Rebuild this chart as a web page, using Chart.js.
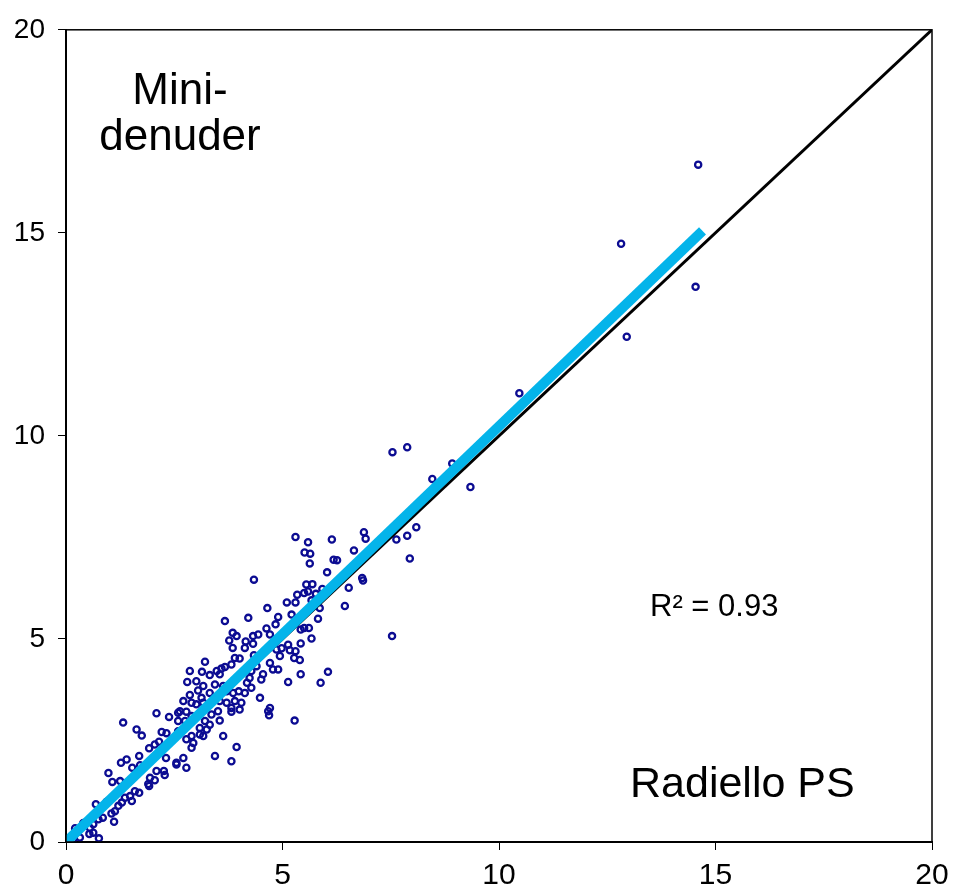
<!DOCTYPE html>
<html>
<head>
<meta charset="utf-8">
<script src="https://cdn.jsdelivr.net/npm/chart.js@4/dist/chart.umd.min.js"></script>
<style>
  html, body { margin: 0; padding: 0; background: #fff; }
  #chart { display: block; }
</style>
</head>
<body>
<canvas id="chart" width="954" height="896"></canvas>
<script>
// Radiello PS (x) vs Mini-denuder (y)
const radielloPS = [
  2.09, 2.38, 2.59, 1.32, 1.63, 1.75, 2.21, 2.32, 2.15, 2.05, 1.92, 1.69, 1.40, 1.27, 1.53, 1.71, 2.55, 2.31,
  0.98, 1.07, 1.25, 1.94, 2.09, 2.26, 2.28, 2.05, 1.90, 1.92, 1.69, 1.59, 1.48, 1.52, 1.36, 1.29, 1.21, 1.13,
  1.05, 1.11, 0.94, 0.69, 0.85, 0.75, 0.63, 0.55, 0.40, 0.21, 0.63, 0.54, 0.76, 0.32, 0.17, 0.02,
  3.67, 4.63, 4.84, 4.71, 3.85, 3.94, 3.77, 4.15, 4.32, 4.44, 4.32, 4.13, 3.85, 5.13, 4.98, 3.90, 4.01, 3.21,
  3.82, 3.67, 3.59, 3.48, 3.55, 3.32, 3.14, 2.86, 4.40, 4.28, 4.71, 4.94, 4.78, 4.90, 4.55, 4.51, 4.24, 4.18,
  4.28, 4.13, 3.99, 3.86, 3.71, 3.63, 3.44, 3.32, 3.17, 3.01, 2.80, 3.05, 2.86, 3.13, 2.71, 2.90, 3.01, 3.17,
  3.55, 3.71, 3.90, 4.05, 3.82, 4.01, 4.48, 5.13, 2.63, 2.78, 2.90, 2.75, 2.59, 3.36, 3.51, 3.55, 3.82, 3.21,
  3.32, 3.09, 3.25, 4.67, 4.71, 3.09, 3.17, 2.90, 2.78, 2.94, 2.90, 3.63, 3.94, 3.44, 3.82, 2.71, 2.55, 2.78, 2.59,
  5.30, 5.59, 6.14, 5.51, 5.64, 5.63, 6.65, 6.18, 6.26, 6.03, 4.34, 5.55, 5.69, 5.34, 5.50, 5.59, 5.77, 5.92,
  6.53, 5.10, 5.30, 5.67, 4.65, 5.86, 6.44, 5.21, 4.90, 4.21, 5.82, 5.42, 5.50, 5.61, 5.67, 5.42, 5.17, 5.30,
  4.86, 5.27, 5.40, 4.34, 5.42, 6.05, 5.88, 4.69, 5.28,
  7.54, 7.88, 8.92, 8.46, 9.34, 6.88, 6.92, 8.09, 7.88, 7.63, 7.94, 6.84, 6.86, 7.53,
  14.60, 12.82, 14.54, 12.95, 10.47
];
const miniDenuder = [
  3.17, 3.08, 3.18, 2.94, 2.77, 2.62, 2.71, 2.68, 2.47, 2.40, 2.31, 2.12, 2.03, 1.95, 1.83, 1.89, 1.95, 2.07,
  1.70, 1.48, 1.50, 1.58, 1.75, 1.75, 1.65, 1.52, 1.43, 1.38, 1.21, 1.25, 1.13, 1.01, 1.09, 0.97, 0.89, 0.76,
  0.70, 0.50, 0.99, 0.93, 0.60, 0.56, 0.44, 0.35, 0.47, 0.34, 0.23, 0.20, 0.09, 0.11, 0.07, 0.04,
  5.44, 5.26, 5.36, 5.11, 5.15, 5.07, 4.96, 4.94, 5.07, 5.11, 4.88, 4.78, 4.78, 4.86, 4.77, 4.53, 4.52, 4.44,
  4.37, 4.31, 4.27, 4.21, 4.13, 4.11, 4.19, 4.21, 4.33, 4.21, 4.41, 4.58, 4.25, 4.25, 4.13, 4.00, 4.04, 3.92,
  3.80, 3.67, 3.71, 3.67, 3.71, 3.84, 3.88, 3.67, 3.84, 3.96, 3.94, 3.73, 3.62, 3.55, 3.47, 3.43, 3.39, 3.43,
  3.47, 3.43, 3.47, 3.43, 3.30, 3.26, 3.55, 3.94, 3.22, 3.21, 3.10, 2.98, 2.98, 3.14, 3.22, 2.99, 3.21, 2.98,
  2.89, 2.81, 2.77, 3.22, 3.30, 2.65, 2.61, 2.61, 2.53, 2.44, 2.32, 2.61, 2.34, 2.12, 1.99, 2.07, 1.91, 1.83, 2.73,
  7.51, 7.38, 7.45, 7.13, 7.10, 6.86, 7.18, 6.95, 6.94, 6.64, 6.46, 6.34, 6.35, 6.09, 6.13, 6.17, 6.11, 6.23,
  6.26, 5.90, 5.90, 5.95, 5.76, 5.76, 5.81, 5.60, 5.54, 5.52, 5.50, 5.23, 5.27, 5.27, 5.01, 4.89, 4.72, 4.70,
  4.74, 4.53, 4.48, 4.60, 4.13, 4.19, 3.92, 3.12, 2.99,
  9.60, 9.72, 9.32, 8.94, 8.74, 7.63, 7.47, 7.75, 7.54, 7.45, 6.98, 6.50, 6.44, 5.07,
  16.68, 14.73, 13.67, 12.44, 11.05
];

// regression line and 1:1 line
const fitX = [0, 14.7];
const fitY = [0, 15.05];
const oneToOneX = [0, 20];
const oneToOneY = [0, 20];

const tickStep = 5;
const axisMin = 0;
const axisMax = 20;

const FONT = '"Liberation Sans", Arial, sans-serif';

function pairs(xs, ys) {
  return xs.map((x, i) => ({ x: x, y: ys[i] }));
}

// frame around the plot and the free texts
const annotations = {
  id: 'annotations',
  afterDraw(chart) {
    const { ctx, chartArea: a } = chart;
    ctx.save();
    ctx.strokeStyle = '#000';
    ctx.lineWidth = 1.5;
    ctx.strokeRect(a.left, a.top, a.right - a.left, a.bottom - a.top);

    ctx.fillStyle = '#000';
    ctx.textBaseline = 'alphabetic';
    ctx.textAlign = 'center';
    ctx.font = '44px ' + FONT;
    ctx.fillText('Mini-', 180, 104);
    ctx.fillText('denuder', 180, 150);

    ctx.textAlign = 'left';
    ctx.font = '43px ' + FONT;
    ctx.fillText('Radiello PS', 630, 797);

    ctx.font = '31px ' + FONT;
    ctx.fillText('R² = 0.93', 650, 616);
    ctx.restore();
  }
};

new Chart(document.getElementById('chart'), {
  type: 'scatter',
  data: {
    datasets: [
      {
        label: 'fit',
        data: pairs(fitX, fitY),
        showLine: true,
        borderColor: '#04b4ea',
        borderWidth: 10,
        borderCapStyle: 'butt',
        pointRadius: 0,
        order: 0
      },
      {
        label: '1:1',
        data: pairs(oneToOneX, oneToOneY),
        showLine: true,
        borderColor: '#000',
        borderWidth: 3,
        pointRadius: 0,
        order: 1
      },
      {
        label: 'samples',
        data: pairs(radielloPS, miniDenuder),
        pointStyle: 'circle',
        pointRadius: 3.1,
        pointBorderWidth: 2.3,
        borderColor: '#0c0c92',
        backgroundColor: 'rgba(255,255,255,0)',
        order: 2
      }
    ]
  },
  options: {
    responsive: false,
    animation: false,
    devicePixelRatio: 1,
    layout: { padding: { top: 28, right: 22, left: 0, bottom: 0 } },
    plugins: {
      legend: { display: false },
      tooltip: { enabled: false }
    },
    scales: {
      x: {
        type: 'linear',
        min: axisMin,
        max: axisMax,
        ticks: {
          stepSize: tickStep,
          color: '#000',
          padding: 8,
          maxRotation: 0,
          font: { family: FONT, size: 30 }
        },
        grid: { drawOnChartArea: false, drawTicks: true, tickLength: 8, color: '#000', lineWidth: 1 },
        border: { display: true, color: '#000', width: 2 },
        afterFit(scale) {
          scale.height = 54;
          scale.paddingLeft = 0;
          scale.paddingRight = 0;
        }
      },
      y: {
        type: 'linear',
        min: axisMin,
        max: axisMax,
        ticks: {
          stepSize: tickStep,
          color: '#000',
          padding: 13,
          font: { family: FONT, size: 28 }
        },
        grid: { drawOnChartArea: false, drawTicks: true, tickLength: 8, color: '#000', lineWidth: 1 },
        border: { display: true, color: '#000', width: 2 },
        afterFit(scale) { scale.width = 66; }
      }
    }
  },
  plugins: [annotations]
});
</script>
</body>
</html>
